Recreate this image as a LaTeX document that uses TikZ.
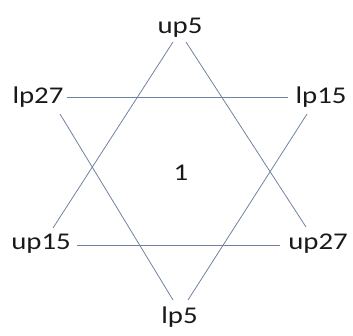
\documentclass[tikz,border=0pt]{standalone}
\usepackage{fontspec}
\setmainfont{Carlito}
\definecolor{edgecol}{RGB}{112,130,160}
\definecolor{txtcol}{RGB}{25,25,25}
\begin{document}
\begin{tikzpicture}[x=1pt,y=-1pt,
  lbl/.style={inner sep=0pt,anchor=base,text=txtcol,font=\fontsize{24}{28}\selectfont},
  edge/.style={draw=edgecol,line width=0.8pt}]
\useasboundingbox (0,0) rectangle (353,335);
\node[lbl] (up5)  at (180,33)  {\scalebox{1.2}[1]{up5}};
\node[lbl] (lp27) at (38,103)  {\scalebox{1.2}[1]{lp27}};
\node[lbl] (lp15) at (321,103) {\scalebox{1.2}[1]{lp15}};
\node[lbl] (one)  at (181,180) {\scalebox{1.2}[1]{1}};
\node[lbl] (up15) at (41,249)  {\scalebox{1.2}[1]{up15}};
\node[lbl] (up27) at (318,249) {\scalebox{1.2}[1]{up27}};
\node[lbl] (lp5)  at (179.5,323) {\scalebox{1.2}[1]{lp5}};
\draw[edge] ([shift={(-7,9)}]up5.base) -- ([shift={(12,-21)}]up15.base);
\draw[edge] ([shift={(6,9)}]up5.base) -- ([shift={(-12,-22)}]up27.base);
\draw[edge] ([shift={(29,-5.5)}]lp27.base) -- ([shift={(-33,-5.5)}]lp15.base);
\draw[edge] ([shift={(22,11)}]lp27.base) -- ([shift={(-6.5,-23)}]lp5.base);
\draw[edge] ([shift={(-14,11)}]lp15.base) -- ([shift={(8.5,-23)}]lp5.base);
\draw[edge] ([shift={(36,-4)}]up15.base) -- ([shift={(-38,-4)}]up27.base);
\end{tikzpicture}
\end{document}
